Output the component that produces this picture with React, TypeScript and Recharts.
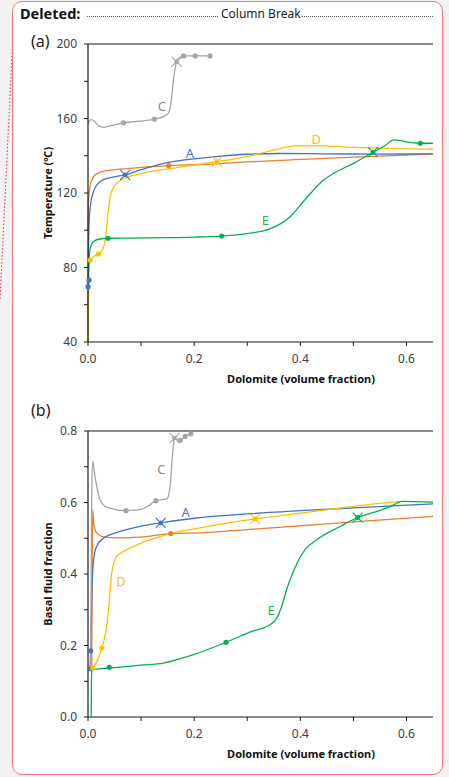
import React from "react";
import { ComposedChart, Line, Scatter, XAxis, YAxis, ReferenceLine, ReferenceDot } from "recharts";

// shared x ticks (dolomite volume fraction)
const xTicks = [0, 0.1, 0.2, 0.3, 0.4, 0.5, 0.6];
const tempTicks = [40, 60, 80, 100, 120, 140, 160, 180, 200];
const fracTicks = [0, 0.1, 0.2, 0.3, 0.4, 0.5, 0.6, 0.7, 0.8];

// ---- panel (a): temperature ----
const tempA = [
  { x: 0, y: 40 }, { x: 0.0005, y: 70 }, { x: 0.001, y: 90 }, { x: 0.002, y: 104 },
  { x: 0.005, y: 114 }, { x: 0.01, y: 120.5 }, { x: 0.018, y: 124.8 }, { x: 0.03, y: 127.3 },
  { x: 0.05, y: 128.7 }, { x: 0.07, y: 129.7 }, { x: 0.1, y: 132.5 }, { x: 0.13, y: 135 },
  { x: 0.16, y: 136.8 }, { x: 0.2, y: 138.3 }, { x: 0.25, y: 139.8 }, { x: 0.3, y: 140.8 },
  { x: 0.36, y: 141.2 }, { x: 0.45, y: 141 }, { x: 0.55, y: 140.9 }, { x: 0.65, y: 141 },
];
const tempB = [
  { x: 0, y: 100 }, { x: 0.0005, y: 110 }, { x: 0.0015, y: 118 }, { x: 0.004, y: 124 },
  { x: 0.008, y: 127.5 }, { x: 0.014, y: 129.8 }, { x: 0.023, y: 131.2 }, { x: 0.04, y: 132.2 },
  { x: 0.079, y: 133.2 }, { x: 0.152, y: 134.7 }, { x: 0.211, y: 135.3 }, { x: 0.3, y: 136.7 },
  { x: 0.4, y: 138 }, { x: 0.526, y: 139.5 }, { x: 0.65, y: 141 },
];
const tempC = [
  { x: 0, y: 157 }, { x: 0.002, y: 158.3 }, { x: 0.006, y: 159.4 }, { x: 0.012, y: 158.6 },
  { x: 0.02, y: 156 }, { x: 0.03, y: 155.3 }, { x: 0.045, y: 156.3 }, { x: 0.0667, y: 157.7 },
  { x: 0.1, y: 158.6 }, { x: 0.125, y: 159.7 }, { x: 0.142, y: 161 }, { x: 0.152, y: 163 },
  { x: 0.157, y: 170 }, { x: 0.162, y: 183 }, { x: 0.167, y: 190.5 }, { x: 0.173, y: 192.8 },
  { x: 0.18, y: 193.6 }, { x: 0.202, y: 193.6 }, { x: 0.23, y: 193.6 },
];
const tempD = [
  { x: 0, y: 40 }, { x: 0.001, y: 60 }, { x: 0.002, y: 78 }, { x: 0.004, y: 84 },
  { x: 0.01, y: 85.8 }, { x: 0.0195, y: 87.2 }, { x: 0.028, y: 90 }, { x: 0.034, y: 98 },
  { x: 0.038, y: 110 }, { x: 0.042, y: 118 }, { x: 0.048, y: 123 }, { x: 0.06, y: 126.5 },
  { x: 0.08, y: 129 }, { x: 0.11, y: 131 }, { x: 0.142, y: 132.5 }, { x: 0.2, y: 135 },
  { x: 0.243, y: 136.8 }, { x: 0.3, y: 139.5 }, { x: 0.35, y: 143 }, { x: 0.39, y: 145.3 },
  { x: 0.43, y: 145.4 }, { x: 0.5, y: 144.5 }, { x: 0.58, y: 143.8 }, { x: 0.65, y: 143.5 },
];
const tempE = [
  { x: 0, y: 72 }, { x: 0.001, y: 80 }, { x: 0.003, y: 88 }, { x: 0.006, y: 92 },
  { x: 0.012, y: 94.2 }, { x: 0.022, y: 95.3 }, { x: 0.038, y: 95.7 }, { x: 0.08, y: 95.8 },
  { x: 0.15, y: 96 }, { x: 0.2, y: 96.3 }, { x: 0.252, y: 96.9 }, { x: 0.3, y: 98.2 },
  { x: 0.34, y: 100.5 }, { x: 0.36, y: 103 }, { x: 0.38, y: 107 }, { x: 0.4, y: 113.5 },
  { x: 0.42, y: 120 }, { x: 0.44, y: 126 }, { x: 0.463, y: 130.6 }, { x: 0.5, y: 135.9 },
  { x: 0.537, y: 141.9 }, { x: 0.56, y: 145.5 }, { x: 0.576, y: 148.5 }, { x: 0.6, y: 147.5 },
  { x: 0.626, y: 146.7 }, { x: 0.65, y: 146.7 },
];
// sampled points (dots) and crosses
const tempDotsA = [{ x: 0.002, y: 73.3 }, { x: 0, y: 69.7 }];
const tempCrossA = [{ x: 0.07, y: 129.7 }];
const tempDotsB = [{ x: 0.152, y: 134.7 }];
const tempDotsC = [{ x: 0.0667, y: 157.7 }, { x: 0.125, y: 159.7 }, { x: 0.18, y: 193.6 }, { x: 0.202, y: 193.6 }, { x: 0.23, y: 193.6 }];
const tempCrossC = [{ x: 0.167, y: 190.5 }];
const tempDotsD = [{ x: 0.004, y: 84 }, { x: 0.0195, y: 87.2 }];
const tempCrossD = [{ x: 0.243, y: 136.8 }];
const tempDotsE = [{ x: 0.038, y: 95.7 }, { x: 0.252, y: 96.9 }, { x: 0.626, y: 146.7 }];
const tempCrossE = [{ x: 0.537, y: 141.9 }];
const tempLabels = [
  { name: "C", x: 0.139, y: 166.3 },
  { name: "A", x: 0.192, y: 141.5 },
  { name: "D", x: 0.43, y: 148.8 },
  { name: "E", x: 0.334, y: 105.1 },
];

// ---- panel (b): basal fluid fraction ----
const fracA = [
  { x: 0.004, y: 0.135 }, { x: 0.005, y: 0.185 }, { x: 0.007, y: 0.33 }, { x: 0.01, y: 0.431 },
  { x: 0.016, y: 0.477 }, { x: 0.029, y: 0.5 }, { x: 0.054, y: 0.516 }, { x: 0.098, y: 0.533 },
  { x: 0.137, y: 0.543 }, { x: 0.2, y: 0.556 }, { x: 0.3, y: 0.568 }, { x: 0.4, y: 0.577 },
  { x: 0.5, y: 0.585 }, { x: 0.65, y: 0.596 },
];
const fracB = [
  { x: 0.007, y: 0.13 }, { x: 0.008, y: 0.45 }, { x: 0.0088, y: 0.58 }, { x: 0.0113, y: 0.533 },
  { x: 0.0195, y: 0.51 }, { x: 0.032, y: 0.503 }, { x: 0.06, y: 0.501 }, { x: 0.098, y: 0.503 },
  { x: 0.156, y: 0.513 }, { x: 0.211, y: 0.515 }, { x: 0.3, y: 0.524 }, { x: 0.4, y: 0.535 },
  { x: 0.5, y: 0.546 }, { x: 0.65, y: 0.561 },
];
const fracC = [
  { x: 0.005, y: 0.14 }, { x: 0.006, y: 0.4 }, { x: 0.007, y: 0.62 }, { x: 0.0088, y: 0.715 },
  { x: 0.0132, y: 0.673 }, { x: 0.0226, y: 0.608 }, { x: 0.0353, y: 0.587 }, { x: 0.0717, y: 0.577 },
  { x: 0.098, y: 0.58 }, { x: 0.115, y: 0.592 }, { x: 0.128, y: 0.605 }, { x: 0.149, y: 0.611 },
  { x: 0.155, y: 0.65 }, { x: 0.159, y: 0.73 }, { x: 0.163, y: 0.78 }, { x: 0.174, y: 0.774 },
  { x: 0.183, y: 0.785 }, { x: 0.194, y: 0.792 },
];
const fracD = [
  { x: 0.0088, y: 0.137 }, { x: 0.015, y: 0.15 }, { x: 0.026, y: 0.193 }, { x: 0.031, y: 0.22 },
  { x: 0.035, y: 0.253 }, { x: 0.0415, y: 0.347 }, { x: 0.0447, y: 0.403 }, { x: 0.054, y: 0.449 },
  { x: 0.073, y: 0.468 }, { x: 0.098, y: 0.485 }, { x: 0.156, y: 0.513 }, { x: 0.211, y: 0.529 },
  { x: 0.315, y: 0.554 }, { x: 0.4, y: 0.57 }, { x: 0.5, y: 0.589 }, { x: 0.557, y: 0.599 },
  { x: 0.589, y: 0.603 },
];
const fracE = [
  { x: 0.006, y: 0 }, { x: 0.0065, y: 0.1 }, { x: 0.007, y: 0.13 }, { x: 0.012, y: 0.133 },
  { x: 0.04, y: 0.137 }, { x: 0.1, y: 0.145 }, { x: 0.142, y: 0.151 }, { x: 0.2, y: 0.175 },
  { x: 0.26, y: 0.209 }, { x: 0.31, y: 0.24 }, { x: 0.343, y: 0.258 }, { x: 0.355, y: 0.275 },
  { x: 0.365, y: 0.31 }, { x: 0.375, y: 0.36 }, { x: 0.385, y: 0.4 }, { x: 0.394, y: 0.431 },
  { x: 0.41, y: 0.47 }, { x: 0.431, y: 0.496 }, { x: 0.475, y: 0.533 }, { x: 0.508, y: 0.558 },
  { x: 0.545, y: 0.575 }, { x: 0.57, y: 0.589 }, { x: 0.592, y: 0.603 }, { x: 0.65, y: 0.601 },
];
const fracDotsA = [{ x: 0.005, y: 0.185 }, { x: 0.004, y: 0.135 }];
const fracCrossA = [{ x: 0.137, y: 0.543 }];
const fracDotsB = [{ x: 0.156, y: 0.513 }];
const fracDotsC = [{ x: 0.0717, y: 0.577 }, { x: 0.128, y: 0.605 }, { x: 0.174, y: 0.774 }, { x: 0.183, y: 0.785 }, { x: 0.194, y: 0.792 }];
const fracCrossC = [{ x: 0.163, y: 0.78 }];
const fracDotsD = [{ x: 0.0088, y: 0.137 }, { x: 0.026, y: 0.193 }];
const fracCrossD = [{ x: 0.315, y: 0.554 }];
const fracDotsE = [{ x: 0.04, y: 0.139 }, { x: 0.26, y: 0.209 }];
const fracCrossE = [{ x: 0.508, y: 0.558 }];
const fracLabels = [
  { name: "C", x: 0.138, y: 0.692 },
  { name: "A", x: 0.184, y: 0.571 },
  { name: "D", x: 0.062, y: 0.379 },
  { name: "E", x: 0.345, y: 0.297 },
];

const BLUE = "#4472C4";
const ORANGE = "#ED7D31";
const GRAY = "#A5A5A5";
const GOLD = "#FFC000";
const GREEN = "#00B050";
const labelColor: Record<string, string> = { A: BLUE, C: "#8a8a8a", D: GOLD, E: "#22b35a" };

const FONT = "'Noto Sans', sans-serif";
const AXIS = "#1a1a1a";

const dotShape = (color: string) => (p: any) => <circle cx={p.cx} cy={p.cy} r={2.6} fill={color} />;
const crossShape = (color: string) => (p: any) => (
  <g>
    <line x1={p.cx - 5} y1={p.cy - 5} x2={p.cx + 5} y2={p.cy + 5} stroke={color} strokeWidth={1.1} />
    <line x1={p.cx - 5} y1={p.cy + 5} x2={p.cx + 5} y2={p.cy - 5} stroke={color} strokeWidth={1.1} />
    <circle cx={p.cx} cy={p.cy} r={2.4} fill={color} />
  </g>
);
const textShape = (name: string) => (p: any) => (
  <text x={p.cx} y={p.cy} dy="0.35em" textAnchor="middle" fontSize={13} fontFamily={FONT} fill={labelColor[name]}>
    {name}
  </text>
);

const tickStyle = { fontSize: 12, fill: "#404040", fontFamily: FONT };
const fmtX = (v: number) => (Math.round(v * 10) % 2 === 0 ? v.toFixed(1) : "");

type Pt = { x: number; y: number };
interface PanelProps {
  curves: { data: Pt[]; color: string }[];
  dots: { data: Pt[]; color: string }[];
  crosses: { data: Pt[]; color: string }[];
  labels: { name: string; x: number; y: number }[];
  yDomain: [number, number];
  yTicks: number[];
  fmtY: (v: number) => string;
  height: number;
  margin: { top: number; right: number; bottom: number; left: number };
}

function Panel({ curves, dots, crosses, labels, yDomain, yTicks, fmtY, height, margin }: PanelProps) {
  return (
    <ComposedChart width={449} height={height} margin={margin}>
      <XAxis
        type="number"
        dataKey="x"
        domain={[0, 0.65]}
        ticks={xTicks}
        interval={0}
        tickFormatter={fmtX}
        tick={tickStyle}
        tickSize={4}
        tickMargin={8}
        height={30}
        stroke={AXIS}
        axisLine={{ stroke: AXIS, strokeWidth: 1.2 }}
      />
      <YAxis
        type="number"
        dataKey="y"
        domain={yDomain}
        ticks={yTicks}
        interval={0}
        tickFormatter={fmtY}
        tick={tickStyle}
        tickSize={4}
        tickMargin={7}
        width={48}
        stroke={AXIS}
        axisLine={{ stroke: AXIS, strokeWidth: 1.2 }}
      />
      <ReferenceLine y={yDomain[1]} stroke={AXIS} strokeWidth={1.2} />
      {curves.map((c, i) => (
        <Line
          key={"l" + i}
          data={c.data}
          dataKey="y"
          type="monotone"
          stroke={c.color}
          strokeWidth={1.3}
          dot={false}
          activeDot={false}
          isAnimationActive={false}
        />
      ))}
      {dots.map((d, i) => (
        <Scatter key={"d" + i} data={d.data} dataKey="y" fill={d.color} shape={dotShape(d.color)} isAnimationActive={false} />
      ))}
      {crosses.map((d, i) => (
        <Scatter key={"x" + i} data={d.data} dataKey="y" fill={d.color} shape={crossShape(d.color)} isAnimationActive={false} />
      ))}
      {labels.map((l) => (
        <ReferenceDot key={l.name} x={l.x} y={l.y} r={0} shape={textShape(l.name)} />
      ))}
    </ComposedChart>
  );
}

const titleStyle: React.CSSProperties = {
  position: "absolute",
  fontFamily: FONT,
  fontWeight: 700,
  fontSize: 11,
  color: "#111",
  whiteSpace: "nowrap",
};

export default function App() {
  return (
    <div style={{ position: "absolute", left: 0, top: 0, width: 449, height: 777, background: "#f2f2f2", overflow: "hidden" }}>
      <svg style={{ position: "absolute", left: 0, top: 0 }} width={449} height={777}>
        <line x1={14} y1={14} x2={0} y2={300} stroke="#e03030" strokeWidth={1} strokeDasharray="1.5 2" />
      </svg>
      <div
        style={{
          position: "absolute",
          left: 12,
          top: 1,
          width: 429,
          height: 772,
          border: "1.5px solid #f07878",
          borderRadius: 10,
          background: "#fff",
        }}
      />
      {/* header */}
      <div style={{ position: "absolute", left: 20, top: 3, fontFamily: FONT, fontWeight: 700, fontSize: 14.5, color: "#111" }}>Deleted:</div>
      <div style={{ position: "absolute", left: 87, top: 16, width: 131, borderBottom: "1px dotted #555" }} />
      <div style={{ position: "absolute", left: 221, top: 5, fontFamily: FONT, fontSize: 12, color: "#222" }}>Column Break</div>
      <div style={{ position: "absolute", left: 302, top: 16, width: 131, borderBottom: "1px dotted #555" }} />

      <div style={{ position: "absolute", left: 31, top: 30, fontFamily: FONT, fontSize: 16, color: "#222" }}>(a)</div>
      <div style={{ position: "absolute", left: 0, top: 0 }}>
        <Panel
          curves={[
            { data: tempB, color: ORANGE },
            { data: tempA, color: BLUE },
            { data: tempC, color: GRAY },
            { data: tempD, color: GOLD },
            { data: tempE, color: GREEN },
          ]}
          dots={[
            { data: tempDotsA, color: BLUE },
            { data: tempDotsB, color: ORANGE },
            { data: tempDotsC, color: GRAY },
            { data: tempDotsD, color: GOLD },
            { data: tempDotsE, color: GREEN },
          ]}
          crosses={[
            { data: tempCrossA, color: BLUE },
            { data: tempCrossC, color: GRAY },
            { data: tempCrossD, color: GOLD },
            { data: tempCrossE, color: GREEN },
          ]}
          labels={tempLabels}
          yDomain={[40, 200]}
          yTicks={tempTicks}
          fmtY={(v) => (v % 40 === 0 ? String(v) : "")}
          height={380}
          margin={{ top: 44, right: 16, bottom: 8, left: 40 }}
        />
      </div>
      <div style={{ ...titleStyle, left: 47, top: 193, transform: "translate(-50%, -50%) rotate(-90deg)" }}>Temperature (℃)</div>
      <div style={{ ...titleStyle, left: 301, top: 378, transform: "translate(-50%, -50%)" }}>Dolomite (volume fraction)</div>

      <div style={{ position: "absolute", left: 31, top: 399, fontFamily: FONT, fontSize: 16, color: "#222" }}>(b)</div>
      <div style={{ position: "absolute", left: 0, top: 390 }}>
        <Panel
          curves={[
            { data: fracB, color: ORANGE },
            { data: fracA, color: BLUE },
            { data: fracC, color: GRAY },
            { data: fracD, color: GOLD },
            { data: fracE, color: GREEN },
          ]}
          dots={[
            { data: fracDotsA, color: BLUE },
            { data: fracDotsB, color: ORANGE },
            { data: fracDotsC, color: GRAY },
            { data: fracDotsD, color: GOLD },
            { data: fracDotsE, color: GREEN },
          ]}
          crosses={[
            { data: fracCrossA, color: BLUE },
            { data: fracCrossC, color: GRAY },
            { data: fracCrossD, color: GOLD },
            { data: fracCrossE, color: GREEN },
          ]}
          labels={fracLabels}
          yDomain={[0, 0.8]}
          yTicks={fracTicks}
          fmtY={(v) => (Math.round(v * 10) % 2 === 0 ? v.toFixed(1) : "")}
          height={370}
          margin={{ top: 41, right: 16, bottom: 13, left: 40 }}
        />
      </div>
      <div style={{ ...titleStyle, left: 47, top: 574, transform: "translate(-50%, -50%) rotate(-90deg)" }}>Basal fluid fraction</div>
      <div style={{ ...titleStyle, left: 301, top: 753, transform: "translate(-50%, -50%)" }}>Dolomite (volume fraction)</div>
    </div>
  );
}
